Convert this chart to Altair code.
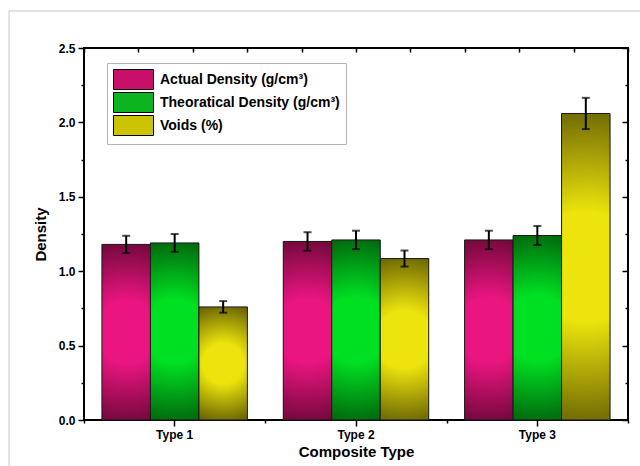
import altair as alt
import pandas as pd

types = ["Type 1", "Type 2", "Type 3"]
series = ["Actual Density (g/cm³)", "Theoratical Density (g/cm³)", "Voids (%)"]
actual = [1.18, 1.20, 1.21]
theoretical = [1.19, 1.21, 1.24]
voids = [0.76, 1.085, 2.06]
actual_err = [0.058, 0.062, 0.062]
theoretical_err = [0.060, 0.062, 0.064]
voids_err = [0.039, 0.054, 0.105]
y_major = [0.0, 0.5, 1.0, 1.5, 2.0, 2.5]
y_minor = [0.25, 0.75, 1.25, 1.75, 2.25]
top_ticks = list(range(11))

legend_colors = ["#c8106a", "#0cb420", "#ccc400"]
grad_mid = ["#ea1580", "#00e022", "#ece40c"]
grad_edge = ["#2a0012", "#001e00", "#201c00"]

rows = []
for i, (s, vals, errs) in enumerate(zip(series, [actual, theoretical, voids],
                                        [actual_err, theoretical_err, voids_err])):
    for t, v, e in zip(types, vals, errs):
        rows.append({"Type": t, "Series": s, "idx": i, "Value": v, "lo": v - e, "hi": v + e})
df = pd.DataFrame(rows)

FONT = "Liberation Sans"


def grad(mid, edge):
    return {"gradient": "radial", "x1": 0.5, "y1": 0.5, "r1": 0,
            "x2": 0.5, "y2": 0.5, "r2": 0.72,
            "stops": [{"offset": 0, "color": mid}, {"offset": 0.25, "color": mid},
                      {"offset": 1, "color": edge}]}


grads = [grad(m, e) for m, e in zip(grad_mid, grad_edge)]

x_scale = alt.Scale(paddingInner=0, paddingOuter=0)
xo = alt.XOffset("Series:N", sort=series, scale=alt.Scale(paddingInner=0, paddingOuter=0.37))
y_scale = alt.Scale(domain=[0, 2.5], nice=False)

base = alt.Chart(df)

bars_legend = base.mark_bar().encode(
    x=alt.X("Type:N", sort=types, scale=x_scale,
            axis=alt.Axis(orient="bottom", title="Composite Type", labelAngle=0,
                          tickSize=6, tickWidth=1.5, tickColor="black", domain=False,
                          labelFont=FONT, labelFontWeight="bold", labelFontSize=12,
                          labelColor="black", labelPadding=3,
                          titleFont=FONT, titleFontWeight="bold", titleFontSize=15,
                          titleColor="black", titlePadding=4)),
    xOffset=xo,
    y=alt.Y("Value:Q", scale=y_scale,
            axis=alt.Axis(orient="left", values=y_major, format=".1f", title="Density",
                          tickSize=6, tickWidth=1.5, tickColor="black", domain=False,
                          grid=False, labelFont=FONT, labelFontWeight="bold",
                          labelFontSize=12, labelColor="black", labelPadding=3,
                          titleFont=FONT, titleFontWeight="bold", titleFontSize=15,
                          titleColor="black", titlePadding=10)),
    color=alt.Color("Series:N", sort=series,
                    scale=alt.Scale(domain=series, range=legend_colors),
                    legend=alt.Legend(orient="none", legendX=23, legendY=15, title=None,
                                      symbolType="M-1,-1H3V1H-1Z", symbolSize=400,
                                      symbolStrokeColor="black", symbolStrokeWidth=1,
                                      labelFont=FONT, labelFontWeight="bold",
                                      labelFontSize=14, labelColor="black",
                                      labelOffset=26, labelLimit=400, padding=6,
                                      rowPadding=-3, strokeColor="#b4b4b4",
                                      fillColor="white")),
)

bars_grad = base.mark_bar(stroke="#1a1a1a", strokeWidth=1).encode(
    x=alt.X("Type:N", sort=types, scale=x_scale, axis=None),
    xOffset=xo,
    y=alt.Y("Value:Q", scale=y_scale,
            axis=alt.Axis(orient="right", values=y_minor, offset=-3, tickSize=3,
                          tickWidth=1.5, tickColor="black", labels=False, domain=False,
                          grid=False, title=None)),
    fill={"condition": [{"test": "datum.idx === 0", "value": grads[0]},
                        {"test": "datum.idx === 1", "value": grads[1]}],
          "value": grads[2]},
)

err_rule = base.mark_rule(color="black", strokeWidth=2).encode(
    x=alt.X("Type:N", sort=types, scale=x_scale,
            axis=alt.Axis(orient="bottom", tickBand="extent", tickSize=3, tickWidth=1.5,
                          tickColor="black", labels=False, domain=False, title=None)),
    xOffset=xo,
    y=alt.Y("lo:Q", scale=y_scale,
            axis=alt.Axis(orient="left", values=y_minor, tickSize=3, tickWidth=1.5,
                          tickColor="black", labels=False, domain=False, grid=False,
                          title=None)),
    y2="hi:Q",
)

cap_lo = base.mark_tick(color="black", thickness=2, size=8).encode(
    x=alt.X("Type:N", sort=types, scale=x_scale, axis=None),
    xOffset=xo,
    y=alt.Y("lo:Q", scale=y_scale,
            axis=alt.Axis(orient="right", values=y_major, offset=-6, tickSize=6,
                          tickWidth=1.5, tickColor="black", labels=False, domain=False,
                          grid=False, title=None)),
)

cap_hi = base.mark_tick(color="black", thickness=2, size=8).encode(
    x=alt.X("Type:N", sort=types, scale=x_scale, axis=None),
    xOffset=xo,
    y=alt.Y("hi:Q", scale=y_scale, axis=None),
)

inner = alt.layer(bars_legend, bars_grad, err_rule, cap_lo, cap_hi).resolve_axis(
    x="independent", y="independent")

top_layer = alt.Chart(pd.DataFrame({"t": top_ticks})).mark_point(opacity=0).encode(
    x=alt.X("t:Q", scale=alt.Scale(domain=[0, 10], nice=False, zero=False),
            axis=alt.Axis(orient="top", values=top_ticks, offset=-4, tickSize=4,
                          tickWidth=1.5, tickColor="black", labels=False, domain=False,
                          grid=False, title=None)),
)

one = pd.DataFrame({"a": [0]})
frame_h = alt.Chart(one).mark_rule(color="#c8c8c8", strokeWidth=1).encode(
    x=alt.value(-75), x2=alt.value(556), y=alt.value(-37))
frame_v = alt.Chart(one).mark_rule(color="#c8c8c8", strokeWidth=1).encode(
    x=alt.value(-75), y=alt.value(-37), y2=alt.value(418))

chart = alt.layer(frame_h, frame_v, inner, top_layer).resolve_scale(
    x="independent").properties(
    width=544, height=372,
    padding={"left": 84, "top": 48, "right": 12, "bottom": 46},
    autosize=alt.AutoSizeParams(type="none"),
    background="white",
).configure_view(stroke="black", strokeWidth=2)

chart.save("out.html", embed_options={"renderer": "svg", "actions": False})
